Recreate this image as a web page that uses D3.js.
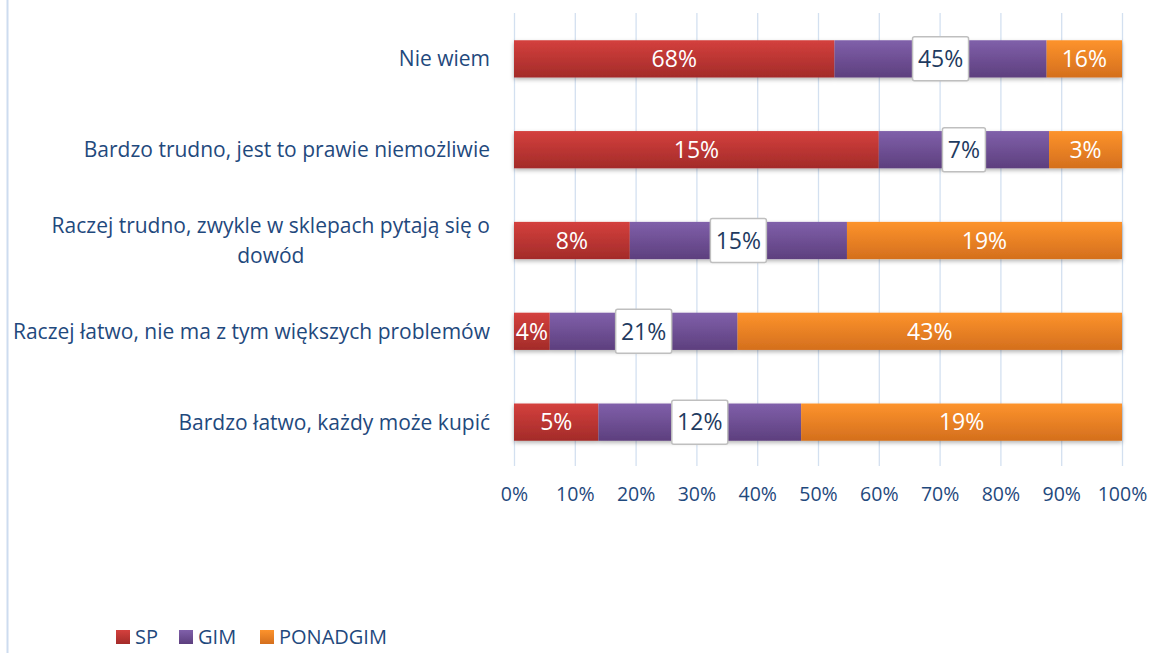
<!DOCTYPE html>
<html>
<head>
<meta charset="utf-8">
<script src="https://cdn.jsdelivr.net/npm/d3@7"></script>
<style>
  body { margin: 0; background: #fff; }
  text { font-family: "Open Sans", "Noto Sans", sans-serif; }
</style>
</head>
<body>
<script>
const width = 1152;
const height = 653;

// data
const categories = [
    ["Nie wiem"],
    ["Bardzo trudno, jest to prawie niemożliwie"],
    ["Raczej trudno, zwykle w sklepach pytają się o", "dowód"],
    ["Raczej łatwo, nie ma z tym większych problemów"],
    ["Bardzo łatwo, każdy może kupić"]
];
const seriesNames = ["SP", "GIM", "PONADGIM"];
const sp = [68, 15, 8, 4, 5];
const gim = [45, 7, 15, 21, 12];
const ponadgim = [16, 3, 19, 43, 19];
const ticks = [0, 0.1, 0.2, 0.3, 0.4, 0.5, 0.6, 0.7, 0.8, 0.9, 1];

const colors = {
    SP: ["#d4403d", "#a32b29"],
    GIM: ["#8060aa", "#5d3f7e"],
    PONADGIM: ["#fd932c", "#d46f1d"]
};

const rows = categories.map((c, i) => ({
    i: i, SP: sp[i], GIM: gim[i], PONADGIM: ponadgim[i],
    total: sp[i] + gim[i] + ponadgim[i]
}));
const norm = rows.map(r => ({
    i: r.i, SP: r.SP / r.total, GIM: r.GIM / r.total, PONADGIM: r.PONADGIM / r.total
}));
const stacked = d3.stack().keys(seriesNames)(norm);

const x = d3.scaleLinear().domain([0, 1]).range([514, 1122]);
const y = d3.scaleBand().domain(d3.range(categories.length)).range([13, 468]).paddingInner(0.59).paddingOuter(0.3);

const svg = d3.select("body").append("svg")
    .attr("width", width)
    .attr("height", height);

const defs = svg.append("defs");
seriesNames.forEach(k => {
    const g = defs.append("linearGradient")
        .attr("id", "grad-" + k)
        .attr("x1", 0).attr("y1", 0).attr("x2", 0).attr("y2", 1);
    g.append("stop").attr("offset", "0%").attr("stop-color", colors[k][0]);
    g.append("stop").attr("offset", "100%").attr("stop-color", colors[k][1]);
});
const shadow = defs.append("filter").attr("id", "shadow")
    .attr("x", "-5%").attr("y", "-20%").attr("width", "110%").attr("height", "160%");
shadow.append("feDropShadow")
    .attr("dx", 0).attr("dy", 2).attr("stdDeviation", 2)
    .attr("flood-color", "#000").attr("flood-opacity", 0.3);

// left frame line
svg.append("line")
    .attr("x1", 7.5).attr("x2", 7.5).attr("y1", 0).attr("y2", height)
    .attr("stroke", "#cddcef").attr("stroke-width", 2);

// grid
svg.append("g")
    .selectAll("line")
    .data(ticks)
    .join("line")
    .attr("x1", d => x(d) + 0.5).attr("x2", d => x(d) + 0.5)
    .attr("y1", 13).attr("y2", 466)
    .attr("stroke", "#d3e0f0").attr("stroke-width", 1.3);

// axis labels
const axis = svg.append("g")
    .attr("transform", "translate(0,466)")
    .call(d3.axisBottom(x).tickValues(ticks).tickFormat(d3.format(".0%")).tickSize(0).tickPadding(21));
axis.select(".domain").remove();
axis.selectAll("text")
    .attr("fill", "#1f497d")
    .style("font-size", "19.5px")
    .style("font-family", "'Open Sans', sans-serif");

// bars
const layer = svg.append("g").attr("filter", "url(#shadow)")
    .selectAll("g")
    .data(stacked)
    .join("g")
    .attr("fill", d => "url(#grad-" + d.key + ")");
layer.selectAll("rect")
    .data(d => d)
    .join("rect")
    .attr("x", d => x(d[0]))
    .attr("width", d => x(d[1]) - x(d[0]))
    .attr("y", (d, i) => y(i))
    .attr("height", y.bandwidth());

// value labels
const valueOf = { SP: sp, GIM: gim, PONADGIM: ponadgim };
stacked.forEach(s => {
    s.forEach((d, i) => {
        const cx = (x(d[0]) + x(d[1])) / 2;
        const cy = y(i) + y.bandwidth() / 2;
        const label = valueOf[s.key][i] + "%";
        if (s.key === "GIM") {
            const bw = label.length > 2 ? 56 : 43;
            svg.append("rect")
                .attr("x", cx - bw / 2).attr("y", cy - 22)
                .attr("width", bw).attr("height", 44)
                .attr("fill", "#fff")
                .attr("stroke", "#bfbfbf").attr("stroke-width", 1.5)
                .attr("rx", 2);
            svg.append("text")
                .attr("x", cx).attr("y", cy)
                .attr("dy", "0.36em")
                .attr("text-anchor", "middle")
                .attr("fill", "#1f3b5f")
                .style("font-size", "23px")
                .text(label);
        } else {
            svg.append("text")
                .attr("x", cx).attr("y", cy)
                .attr("dy", "0.36em")
                .attr("text-anchor", "middle")
                .attr("fill", "#fff")
                .style("font-size", "23px")
                .text(label);
        }
    });
});

// category labels
const catG = svg.append("g");
categories.forEach((lines, i) => {
    const cy = y(i) + y.bandwidth() / 2;
    const lh = 30;
    const top = cy - (lines.length - 1) * lh / 2;
    const first = catG.append("text")
        .attr("x", 490).attr("y", top)
        .attr("dy", "0.36em")
        .attr("text-anchor", "end")
        .attr("fill", "#1f497d")
        .style("font-size", "21px")
        .text(lines[0]);
    if (lines.length > 1) {
        const w = first.node().getComputedTextLength();
        lines.slice(1).forEach((ln, j) => {
            catG.append("text")
                .attr("x", 490 - w / 2).attr("y", top + (j + 1) * lh)
                .attr("dy", "0.36em")
                .attr("text-anchor", "middle")
                .attr("fill", "#1f497d")
                .style("font-size", "21px")
                .text(ln);
        });
    }
});

// legend
const legendX = [116, 179, 260];
const legend = svg.append("g")
    .selectAll("g")
    .data(seriesNames)
    .join("g")
    .attr("transform", (d, i) => `translate(${legendX[i]},630)`);
legend.append("rect")
    .attr("width", 14).attr("height", 14)
    .attr("fill", d => "url(#grad-" + d + ")");
legend.append("text")
    .attr("x", 19).attr("y", 7)
    .attr("dy", "0.34em")
    .attr("fill", "#1f497d")
    .style("font-size", "20px")
    .text(d => d);
</script>
</body>
</html>
